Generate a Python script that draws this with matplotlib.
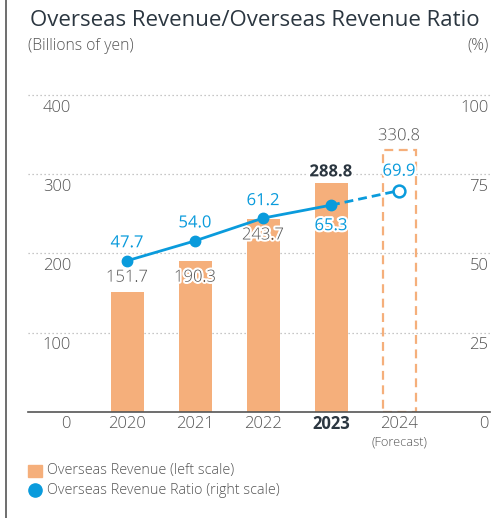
import matplotlib
matplotlib.use("Agg")
import matplotlib.pyplot as plt
import matplotlib.patheffects as pe
from matplotlib.patches import Rectangle
from matplotlib.lines import Line2D

plt.rcParams['font.family'] = ['Open Sans', 'DejaVu Sans']

# ---- data ----
years = ["2020", "2021", "2022", "2023", "2024"]
revenue = [151.7, 190.3, 243.7, 288.8, 330.8]        # billions of yen
ratio = [47.7, 54.0, 61.2, 65.3, 69.9]               # %
left_ticks = [0, 100, 200, 300, 400]
right_ticks = [0, 25, 50, 75, 100]
rev_labels = ["151.7", "190.3", "243.7", "288.8", "330.8"]
ratio_labels = ["47.7", "54.0", "61.2", "65.3", "69.9"]

# ---- styles ----
ORANGE = "#F5AF7B"
BLUE = "#0A9BDC"
GRAY = "#555555"
DARK = "#2B3640"
LIGHT = "light"
W, H = 491, 518

fig = plt.figure(figsize=(W / 100, H / 100), dpi=100)

def fx(px):
    return px / W

def fy(py):
    return 1 - py / H

ax_left, ax_right, ax_bottom, ax_top = 28, 490, 411.5, 79.7
ax = fig.add_axes([fx(ax_left), fy(ax_bottom), fx(ax_right - ax_left), (ax_bottom - ax_top) / H])
ax2 = ax.twinx()

x = list(range(len(years)))
spacing = 68.0
xmin = (ax_left - 127) / spacing
xmax = (ax_right - 127) / spacing
ax.set_xlim(xmin, xmax)
ax.set_ylim(0, 420)
ax2.set_ylim(0, 105)

for a in (ax, ax2):
    for s in ("top", "left", "right"):
        a.spines[s].set_visible(False)
    a.set_xticks([])
    a.set_yticks([])
ax2.spines["bottom"].set_visible(False)
ax.spines["bottom"].set_color("#555555")
ax.spines["bottom"].set_linewidth(1.2)

# gridlines
for t in left_ticks[1:]:
    ax.axhline(t, color="#b5b5b5", lw=0.9, ls=(0, (1, 2.2)), zorder=0)

bw = 33 / spacing
ax.bar(x[:4], revenue[:4], width=bw, color=ORANGE, zorder=2)
ax.bar(x[4], revenue[4], width=bw, fill=False, edgecolor=ORANGE, lw=1.6,
       ls=(0, (4, 2.5)), zorder=2)

# ratio line
ax2.plot(x[:4], ratio[:4], color=BLUE, lw=2.0, marker="o", ms=7.5, zorder=5)
ax2.plot(x[3:5], ratio[3:5], color=BLUE, lw=2.0, ls=(0, (3.2, 1.8)), zorder=5)
ax2.plot(x[4], ratio[4], marker="o", ms=8.5, mfc="white", mec=BLUE, mew=1.8,
         ls="none", zorder=6)

halo = [pe.withStroke(linewidth=3, foreground="white")]

# revenue labels (offset in px from bar top)
rev_off = [14, -16.5, -16.5, 12, 14]
for i in x:
    bold = years[i] == "2023"
    ax.annotate(rev_labels[i], xy=(i, revenue[i]), xytext=(0, rev_off[i] * 0.72),
                textcoords="offset points", ha="center", va="center",
                fontsize=12, color=DARK if bold else GRAY,
                fontweight="bold" if bold else LIGHT,
                path_effects=halo, zorder=7)

# ratio labels
ratio_off = [17.5, 17.5, 17, -21, 19]
for i in x:
    ax2.annotate(ratio_labels[i], xy=(i, ratio[i]), xytext=(0, ratio_off[i] * 0.72),
                 textcoords="offset points", ha="center", va="center",
                 fontsize=12, color=BLUE, fontweight="normal",
                 path_effects=halo, zorder=8)

# axis tick labels
lx = (71 - ax_left) / (ax_right - ax_left)
rx = (488.5 - ax_left) / (ax_right - ax_left)
for t in left_ticks:
    ax.annotate(str(t), xy=(lx, t), xycoords=ax.get_yaxis_transform(),
                xytext=(0, -12.5 * 0.72), textcoords="offset points",
                ha="right", va="center", fontsize=12, color=GRAY, fontweight=LIGHT)
for t in right_ticks:
    ax2.annotate(str(t), xy=(rx, t), xycoords=ax2.get_yaxis_transform(),
                 xytext=(0, -12.5 * 0.72), textcoords="offset points",
                 ha="right", va="center", fontsize=12, color=GRAY, fontweight=LIGHT)

# year labels
for i in x:
    bold = years[i] == "2023"
    ax.annotate(years[i], xy=(i, 0), xytext=(0, -12.5 * 0.72), textcoords="offset points",
                ha="center", va="center", fontsize=12,
                color=DARK if bold else GRAY, fontweight="bold" if bold else LIGHT,
                annotation_clip=False)
ax.annotate("(Forecast)", xy=(4, 0), xytext=(0, -31 * 0.72), textcoords="offset points",
            ha="center", va="center", fontsize=9.3, color=GRAY, fontweight=LIGHT,
            annotation_clip=False)

# title and units
fig.text(fx(30), fy(21), "Overseas Revenue/Overseas Revenue Ratio", fontsize=16.0,
         color=DARK, ha="left", va="center")
fig.text(fx(28), fy(46), "(Billions of yen)", fontsize=11.3, color=GRAY, ha="left",
         va="center", fontweight=LIGHT)
fig.text(fx(489), fy(46), "(%)", fontsize=11.3, color=GRAY, ha="right", va="center",
         fontweight=LIGHT)

# legend
fig.add_artist(Rectangle((fx(28), fy(477)), fx(14), 12 / H, transform=fig.transFigure,
                         color=ORANGE))
fig.add_artist(Line2D([fx(35)], [fy(490)], marker="o", ms=9.5, color=BLUE,
                      transform=fig.transFigure))
fig.text(fx(47), fy(471), "Overseas Revenue (left scale)", fontsize=10.4, color=GRAY,
         ha="left", va="center", fontweight=LIGHT)
fig.text(fx(47), fy(490), "Overseas Revenue Ratio (right scale)", fontsize=10.4, color=GRAY,
         ha="left", va="center", fontweight=LIGHT)

# left page border
fig.add_artist(Line2D([fx(5.5), fx(5.5)], [0, 1], color="#555555", lw=1.2,
                      transform=fig.transFigure))

fig.savefig("out.png", dpi=100)
